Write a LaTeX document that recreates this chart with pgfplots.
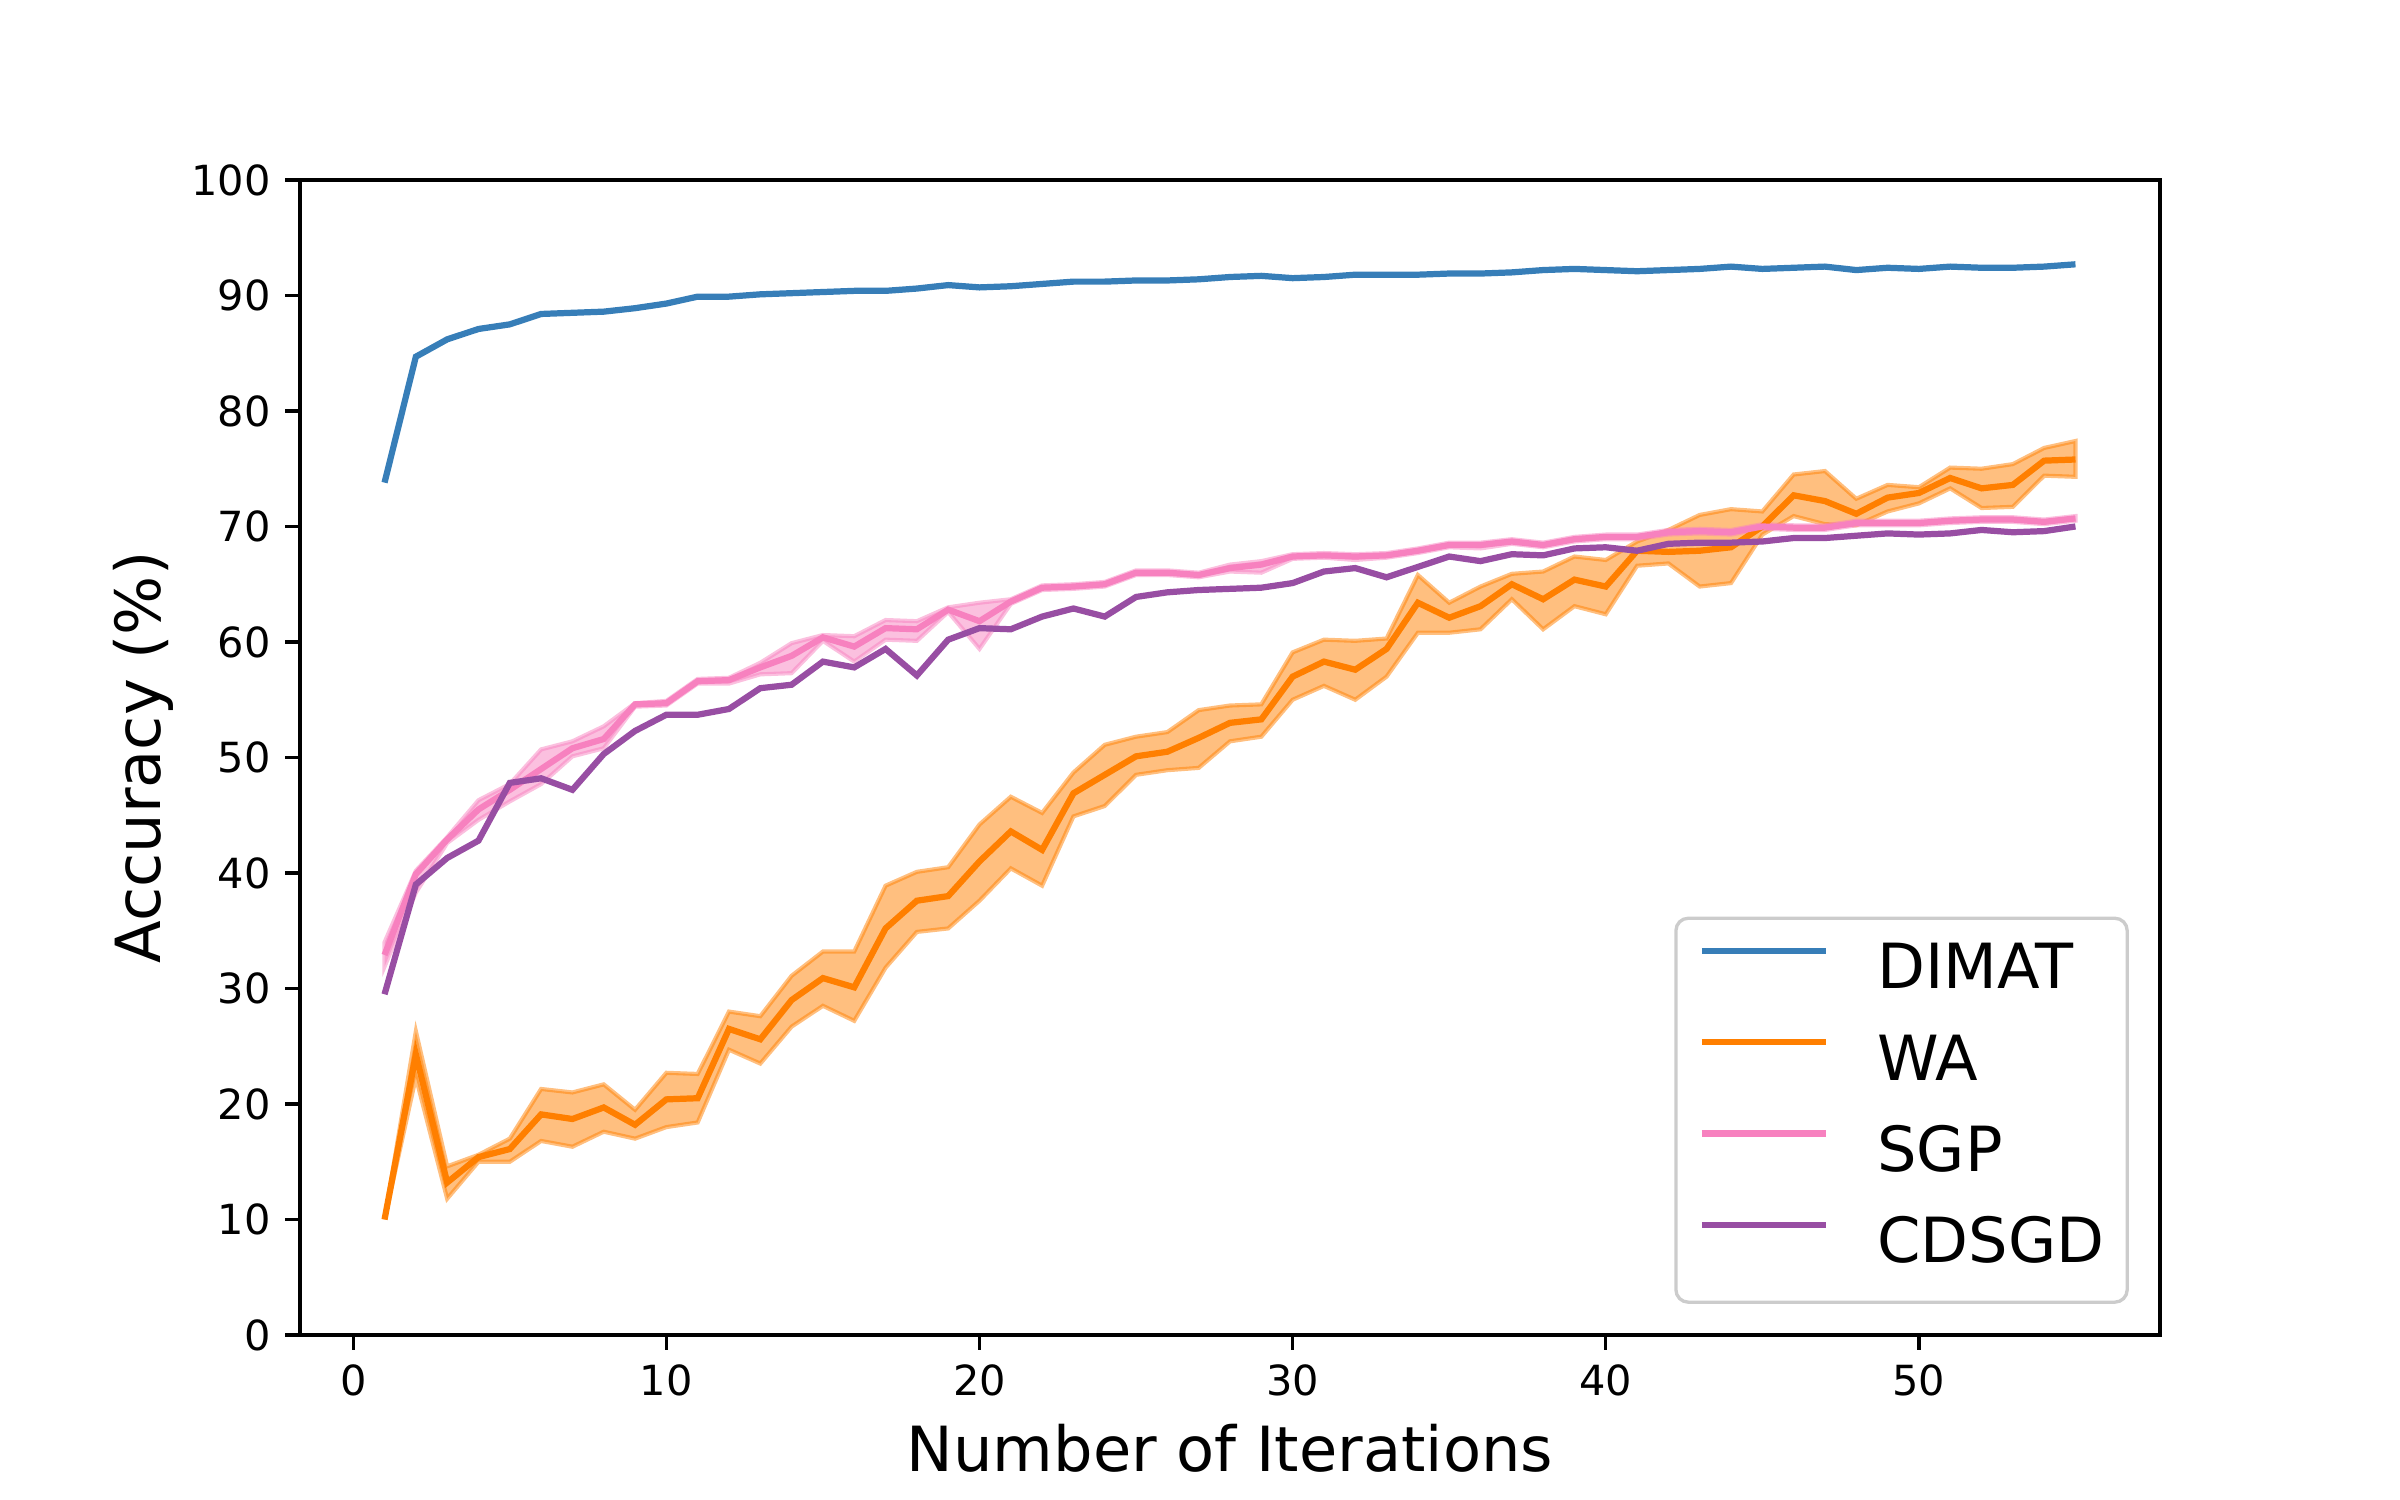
\documentclass[border=0pt]{standalone}
\usepackage{fontspec}
\setmainfont{DejaVu Sans}
\usepackage{pgfplots}
\pgfplotsset{compat=1.18}
\usepackage{pgfplotstable}
\usepgfplotslibrary{fillbetween}

\definecolor{dimatblue}{HTML}{377EB8}
\definecolor{waorange}{HTML}{FF7F00}
\definecolor{sgppink}{HTML}{F781BF}
\definecolor{cdsgdpurple}{HTML}{984EA3}

% x  mean  lo  hi
\pgfplotstableread{
x y
1 73.8
2 84.7
3 86.2
4 87.1
5 87.5
6 88.4
7 88.5
8 88.6
9 88.9
10 89.3
11 89.9
12 89.9
13 90.1
14 90.2
15 90.3
16 90.4
17 90.4
18 90.6
19 90.9
20 90.7
21 90.8
22 91.0
23 91.2
24 91.2
25 91.3
26 91.3
27 91.4
28 91.6
29 91.7
30 91.5
31 91.6
32 91.8
33 91.8
34 91.8
35 91.9
36 91.9
37 92.0
38 92.2
39 92.3
40 92.2
41 92.1
42 92.2
43 92.3
44 92.5
45 92.3
46 92.4
47 92.5
48 92.2
49 92.4
50 92.3
51 92.5
52 92.4
53 92.4
54 92.5
55 92.7
}\dimat

\pgfplotstableread{
x y lo hi
1 10.0 10.0 10.0
2 24.3 22.3 26.3
3 13.2 11.8 14.6
4 15.4 15.0 15.6
5 16.1 15.0 17.0
6 19.1 16.8 21.3
7 18.7 16.3 21.0
8 19.7 17.6 21.7
9 18.2 17.0 19.5
10 20.4 18.0 22.7
11 20.5 18.4 22.6
12 26.5 24.7 28.0
13 25.6 23.5 27.6
14 29.0 26.7 31.1
15 30.9 28.5 33.2
16 30.1 27.2 33.2
17 35.2 31.8 38.9
18 37.6 34.9 40.1
19 38.0 35.2 40.5
20 41.0 37.6 44.2
21 43.6 40.4 46.6
22 42.0 38.9 45.2
23 46.9 44.9 48.7
24 48.5 45.8 51.1
25 50.1 48.5 51.8
26 50.5 48.9 52.2
27 51.7 49.1 54.1
28 53.0 51.4 54.5
29 53.3 51.8 54.6
30 57.0 55.0 59.1
31 58.3 56.2 60.2
32 57.6 55.0 60.1
33 59.4 57.0 60.3
34 63.4 60.8 65.8
35 62.1 60.8 63.4
36 63.1 61.1 64.8
37 65.0 63.7 65.9
38 63.7 61.1 66.1
39 65.4 63.1 67.4
40 64.8 62.4 67.1
41 67.9 66.6 68.7
42 67.8 66.8 69.7
43 67.9 64.8 71.0
44 68.2 65.1 71.5
45 70.0 69.3 71.3
46 72.7 70.9 74.5
47 72.2 70.2 74.8
48 71.1 70.1 72.4
49 72.5 71.3 73.6
50 72.9 72.0 73.4
51 74.2 73.3 75.1
52 73.3 71.6 75.0
53 73.6 71.7 75.4
54 75.7 74.4 76.8
55 75.8 74.3 77.4
}\wa

\pgfplotstableread{
x y lo hi
1 32.9 31.9 34.0
2 39.9 38.3 40.2
3 42.9 42.6 43.1
4 45.5 44.6 46.3
5 47.2 46.2 47.7
6 49.0 47.7 50.7
7 50.8 50.1 51.4
8 51.6 50.8 52.7
9 54.6 54.4 54.7
10 54.7 54.5 54.9
11 56.6 56.4 56.8
12 56.7 56.4 56.9
13 57.8 57.2 58.2
14 58.8 57.3 59.9
15 60.4 60.1 60.6
16 59.6 58.3 60.5
17 61.2 60.2 61.9
18 61.1 60.1 61.8
19 62.8 62.6 63.0
20 61.8 59.4 63.4
21 63.5 63.3 63.7
22 64.7 64.5 64.9
23 64.8 64.6 65.0
24 65.0 64.8 65.2
25 66.0 65.8 66.2
26 66.0 65.8 66.2
27 65.8 65.6 66.0
28 66.4 66.1 66.7
29 66.7 66.0 67.0
30 67.4 67.2 67.6
31 67.5 67.3 67.7
32 67.4 67.1 67.6
33 67.5 67.3 67.7
34 67.9 67.7 68.1
35 68.4 68.2 68.6
36 68.4 68.1 68.6
37 68.7 68.5 68.9
38 68.4 68.2 68.6
39 68.9 68.7 69.1
40 69.1 68.9 69.3
41 69.1 68.9 69.3
42 69.5 69.3 69.7
43 69.6 69.4 69.8
44 69.5 69.3 69.7
45 70.0 69.8 70.2
46 69.9 69.7 70.1
47 69.9 69.7 70.1
48 70.3 70.1 70.5
49 70.3 70.1 70.5
50 70.3 70.1 70.5
51 70.5 70.3 70.7
52 70.6 70.4 70.8
53 70.6 70.4 70.8
54 70.4 70.2 70.6
55 70.7 70.5 70.9
}\sgp

\pgfplotstableread{
x y
1 29.5
2 39.0
3 41.3
4 42.8
5 47.8
6 48.2
7 47.2
8 50.3
9 52.3
10 53.7
11 53.7
12 54.2
13 56.0
14 56.3
15 58.3
16 57.8
17 59.4
18 57.1
19 60.2
20 61.2
21 61.1
22 62.2
23 62.9
24 62.2
25 63.9
26 64.3
27 64.5
28 64.6
29 64.7
30 65.1
31 66.1
32 66.4
33 65.6
34 66.5
35 67.4
36 67.0
37 67.6
38 67.5
39 68.1
40 68.2
41 67.9
42 68.5
43 68.6
44 68.6
45 68.7
46 69.0
47 69.0
48 69.2
49 69.4
50 69.3
51 69.4
52 69.7
53 69.5
54 69.6
55 70.0
}\cdsgd

\begin{document}
\begin{tikzpicture}
\begin{axis}[
  at={(0,0)}, anchor=south west,
  scale only axis,
  width=448.07pt, height=278.24pt,
  xmin=-1.7, xmax=57.7,
  ymin=0, ymax=100,
  xtick={0,10,...,50},
  ytick={0,10,...,100},
  tick align=outside,
  tick pos=left,
  major tick length=3.5pt,
  every tick/.style={black, line width=0.8pt},
  axis line style={line width=0.8pt},
  /pgf/number format/assume math mode=true,
  ticklabel style={font=\fontsize{10}{12}\selectfont},
  label style={font=\fontsize{15}{18}\selectfont},
  xlabel={Number of Iterations},
  ylabel={Accuracy (\%)},
  ylabel style={at={(ticklabel cs:0.5,-2.6pt)}},
  legend cell align=left,
  legend style={
    at={(1,0)}, anchor=south east, xshift=-7.5pt, yshift=7.5pt,
    draw=black!20, line width=0.8pt, rounded corners=3pt,
    fill=white, fill opacity=0.8, text opacity=1,
    font=\fontsize{15}{18}\selectfont,
    inner xsep=5.5pt, inner ysep=6pt,
    column sep=11.5pt, row sep=7.5pt,
    nodes={inner sep=0pt, text height=11pt, text depth=3.5pt},
  },
  legend image code/.code={
    \draw[#1] (0pt,5.4pt) -- (30pt,5.4pt);
  },
]
\addplot[dimatblue, line width=1.5pt] table[x=x, y=y] {\dimat};
\addlegendentry{DIMAT}

\addplot[name path=walo, draw=none, forget plot] table[x=x, y=lo] {\wa};
\addplot[name path=wahi, draw=none, forget plot] table[x=x, y=hi] {\wa};
\addplot[fill=waorange, fill opacity=0.5, draw=waorange, draw opacity=0.5, line width=1pt, forget plot]
  fill between[of=walo and wahi];
\addplot[waorange, line width=1.5pt] table[x=x, y=y] {\wa};
\addlegendentry{WA}

\addplot[name path=sgplo, draw=none, forget plot] table[x=x, y=lo] {\sgp};
\addplot[name path=sgphi, draw=none, forget plot] table[x=x, y=hi] {\sgp};
\addplot[fill=sgppink, fill opacity=0.5, draw=sgppink, draw opacity=0.5, line width=1pt, forget plot]
  fill between[of=sgplo and sgphi];
\addplot[sgppink, line width=1.5pt] table[x=x, y=y] {\sgp};
\addlegendentry{SGP}

\addplot[cdsgdpurple, line width=1.5pt] table[x=x, y=y] {\cdsgd};
\addlegendentry{CDSGD}
\end{axis}
\path (-72.27pt,-39.75pt) rectangle (505.89pt,321.60pt);
\end{tikzpicture}
\end{document}
